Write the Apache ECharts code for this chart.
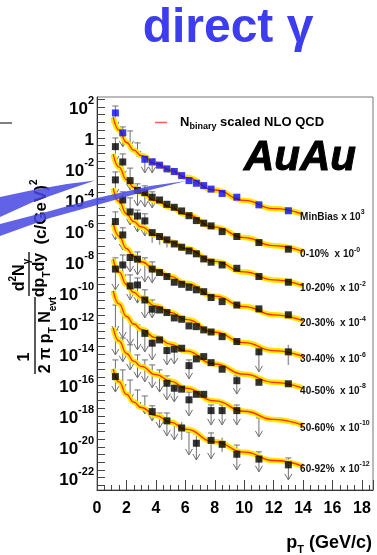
<!DOCTYPE html>
<html>
<head>
<meta charset="utf-8">
<title>direct gamma AuAu</title>
<script src="https://cdn.jsdelivr.net/npm/echarts@6/dist/echarts.min.js"></script>
<style>
html, body { margin: 0; padding: 0; background: #fff; }
#main { width: 377px; height: 555px; }
</style>
</head>
<body>
<div id="main"></div>
<script>
// pT grid of the NLO curves and of the measured bins
var curvePt = [1.1, 1.5, 2, 2.5, 3, 4, 5, 6, 8, 10, 12, 14];
var binPt = [1.25, 1.75, 2.25, 2.75, 3.25, 3.75, 4.25, 4.75, 5.25, 5.75, 6.25, 6.75, 7.25, 7.75, 8.5, 9.5, 11, 13];

var cents = ['MinBias', '0-10%', '10-20%', '20-30%', '30-40%', '40-50%', '50-60%', '60-92%'];
var scaleExp = ['3', '-0', '-2', '-4', '-6', '-8', '-10', '-12'];
var yLabelVals = [1e2, 1, 1e-2, 1e-4, 1e-6, 1e-8, 1e-10, 1e-12, 1e-14, 1e-16, 1e-18, 1e-20, 1e-22];
var xLabelVals = [0, 2, 4, 6, 8, 10, 12, 14, 16, 18];

// N_binary scaled NLO QCD curves (values at curvePt)
var mbCurve = [22, 3.2, 0.50, 0.16, 0.071, 0.021, 0.0079, 0.0028, 4.2e-4, 8.9e-5, 2.6e-5, 1.1e-5];
var c0010 = [8.9e-2, 1.26e-2, 2.0e-3, 6.3e-4, 2.8e-4, 8.3e-5, 3.2e-5, 1.12e-5, 1.66e-6, 3.5e-7, 1.05e-7, 4.3e-8];
var c1020 = [5.4e-4, 7.6e-5, 1.2e-5, 3.8e-6, 1.7e-6, 5.0e-7, 1.9e-7, 6.8e-8, 1.0e-8, 2.1e-9, 6.3e-10, 2.6e-10];
var c2030 = [3.0e-6, 4.3e-7, 6.8e-8, 2.1e-8, 9.5e-9, 2.8e-9, 1.07e-9, 3.8e-10, 5.6e-11, 1.2e-11, 3.5e-12, 1.45e-12];
var c3040 = [1.4e-8, 2.0e-9, 3.2e-10, 1.0e-10, 4.5e-11, 1.3e-11, 5.0e-12, 1.8e-12, 2.6e-13, 5.6e-14, 1.7e-14, 6.8e-15];
var c4050 = [1.26e-10, 1.8e-11, 2.8e-12, 8.9e-13, 4.0e-13, 1.17e-13, 4.5e-14, 1.6e-14, 2.3e-15, 5.0e-16, 1.5e-16, 6.0e-17];
var c5060 = [5.0e-13, 7.1e-14, 1.12e-14, 3.5e-15, 1.6e-15, 4.7e-16, 1.8e-16, 6.3e-17, 9.3e-18, 2.0e-18, 5.9e-19, 2.4e-19];
var c6092 = [1.12e-15, 1.6e-16, 2.5e-17, 7.9e-18, 3.5e-18, 1.05e-18, 4.0e-19, 1.4e-19, 2.1e-20, 4.5e-21, 1.3e-21, 5.4e-22];

// measured points (values at binPt, null = no marker)
var mbY = [41, 2.1, null, null, 0.041, 0.0275, 0.017, 0.0098, 0.0066, 0.0036, 0.0017, 0.00115, 8.1e-4, 4.8e-4, 2.5e-4, 1.44e-4, 4.6e-5, 1.9e-5];
var y0010 = [0.27, 0.0275, 1.7e-3, 4.0e-4, 2.8e-4, 1.44e-4, 9.5e-5, 5.0e-5, 3.2e-5, 1.86e-5, 9.1e-6, 4.4e-6, 3.0e-6, 2.0e-6, 8.5e-7, 4.1e-7, 1.66e-7, 6.2e-8];
var y1020 = [1.9e-3, 9.5e-5, 1.6e-5, 8.7e-6, 4.2e-6, 7.3e-7, 4.1e-7, 2.5e-7, 1.35e-7, 8.3e-8, 4.8e-8, 3.1e-8, 1.45e-8, 8.9e-9, 5.9e-9, 3.6e-9, 1.05e-9, 4.5e-10];
var y2030 = [3.8e-6, 5.2e-7, 1.8e-8, 1.4e-8, null, 3.2e-9, 1.9e-9, 1.05e-9, 4.5e-10, 3.3e-10, 2.1e-10, 1.45e-10, 1.1e-10, 4.6e-11, 2.5e-11, 1.5e-11, 8.5e-12, 3.5e-12];
var y3040 = [3.2e-9, 5.9e-9, 2.6e-10, 3.0e-10, 3.2e-11, 8.1e-12, 7.2e-12, 4.9e-12, 2.2e-12, 1.8e-12, 6.7e-13, 6.0e-13, 3.7e-13, 2.7e-13, 1.35e-13, 6.5e-14, 1.4e-14, 1.4e-14];
var y4050 = [null, null, null, null, 2.2e-13, 5.1e-14, 8.3e-14, 1.7e-14, 2.1e-14, 2.4e-14, 1.8e-15, 4.9e-15, 6.9e-15, 2.8e-15, 1.05e-15, 1.9e-16, 1.5e-16, 1.2e-16];
var y5060 = [null, null, null, null, null, null, null, 1.3e-16, 6.2e-17, 5.4e-17, 1.1e-17, 2.5e-17, 2.5e-17, 2.2e-18, 2.2e-18, 2.2e-18, null, null];
var y6092 = [3.5e-16, null, null, null, null, 1.9e-18, null, 4.8e-19, null, 1.66e-19, null, 1.7e-20, null, 2.6e-20, 1.45e-20, 3.3e-21, 1.6e-21, 6.8e-22];

// upper limits / arrows: [pT, top, arrow tip]
var mbArrows = [[1.25, 115, 4.4], [1.75, 5.1, 0.26], [2.25, 2.8, 0.26], [2.75, 0.47, 0.058], [3.25, 0.068, 0.0054], [3.75, 0.043, 0.0054]];
var a0010 = [[1.25, 0.98, 0.0275], [1.75, 0.091, 3.0e-3], [2.25, 0.011, 4.3e-4], [2.75, 1.05e-3, 3.9e-5], [3.25, 7.8e-4, 3.4e-5], [3.75, 3.2e-4, 2.9e-5]];
var a1020 = [[1.25, 6.2e-3, 2.0e-4], [1.75, 3.2e-4, 1.2e-5], [2.25, 1.3e-4, 2.3e-6], [2.75, 2.1e-5, 8.1e-7], [3.25, 1.2e-5, 4.5e-7]];
var a2030 = [[1.25, 1.6e-5, 2.5e-7], [1.75, 1.5e-6, 5.5e-8], [2.25, 4.1e-8, 2.1e-9], [2.75, 4.1e-8, 1.35e-9], [3.25, 1.7e-8, 4.7e-10], [3.75, 9.3e-9, 4.1e-10]];
var a3040 = [[1.25, 1.7e-8, 1.45e-10], [1.75, 2.6e-8, 6.3e-10], [2.25, 1.35e-9, 3.2e-11], [2.75, 8.5e-10, 2.0e-11], [3.25, 1.45e-10, 2.2e-12], [3.75, 3.2e-11, 2.2e-12], [11, 3.4e-14, 7.1e-16]];
var a4050 = [[1.25, 1.5e-11, 2.7e-13], [1.75, 5.4e-12, 1.1e-13], [2.25, 1.6e-12, 4.0e-14], [2.75, 7.8e-13, 1.9e-14], [3.25, 2.2e-13, 1.4e-14], [3.75, 1.7e-13, 4.2e-15], [4.75, 4.0e-14, 2.0e-15], [5.25, 4.6e-14, 2.3e-15], [6.25, 4.2e-15, 2.5e-16], [9.5, 3.9e-16, 2.6e-17]];
var a5060 = [[1.25, 3.7e-13, 8.9e-15], [1.75, 1.1e-13, 3.2e-15], [2.25, 4.0e-14, 9.5e-16], [2.75, 8.9e-15, 2.9e-16], [3.25, 4.2e-15, 1.6e-16], [3.75, 2.0e-15, 6.5e-17], [4.25, 9.5e-16, 3.5e-17], [4.75, 3.9e-16, 1.1e-17], [5.25, 1.6e-16, 8.1e-18], [6.25, 3.5e-17, 1.0e-18], [7.75, 5.1e-18, 2.6e-19], [8.5, 5.1e-18, 2.6e-19], [9.5, 5.1e-18, 2.6e-19], [11, 7.4e-19, 4.4e-20]];
var a6092 = [[1.25, 4.2e-15, 3.5e-17], [1.75, 9.5e-16, 4.8e-17], [2.25, 2.1e-16, 1.1e-17], [2.75, 4.8e-17, 3.3e-18], [3.25, 1.95e-17, 1.35e-18], [3.75, 4.5e-18, 4.8e-19], [4.25, 1.55e-18, 1.66e-19], [4.75, 1.55e-18, 5.1e-20], [5.25, 3.5e-19, 2.8e-20], [6.25, 9.1e-20, 3.0e-21], [6.75, 6.8e-20, 1.4e-21], [7.75, 7.9e-20, 1.66e-21], [9.5, 1.3e-20, 3.2e-22], [11, 4.7e-21, 2.4e-22], [13, 1.9e-21, 7.2e-23]];

// plain error bars: [pT, high, low]
var e1020 = [[3.75, 1.1e-6, 1.6e-7], [4.25, 6.0e-7, 1.2e-7], [4.75, 3.5e-7, 8.0e-8]];
var e3040 = [[13, 4.0e-14, 2.0e-15]];
var e6092 = [[5.75, 4.1e-19, 2.8e-20], [8.5, 3.8e-20, 4.7e-21]];

var groups = [
    { pts: mbY, curve: mbCurve, arrows: mbArrows, errs: [] },
    { pts: y0010, curve: c0010, arrows: a0010, errs: [] },
    { pts: y1020, curve: c1020, arrows: a1020, errs: e1020 },
    { pts: y2030, curve: c2030, arrows: a2030, errs: [] },
    { pts: y3040, curve: c3040, arrows: a3040, errs: e3040 },
    { pts: y4050, curve: c4050, arrows: a4050, errs: [] },
    { pts: y5060, curve: c5060, arrows: a5060, errs: [] },
    { pts: y6092, curve: c6092, arrows: a6092, errs: e6092 }
];

var font = '"Liberation Sans", Arial, Helvetica, sans-serif';
var grey = '#6e6e6e';

function renderArrow(params, api) {
    var top = api.coord([api.value(0), api.value(1)]);
    var tip = api.coord([api.value(0), api.value(2)]);
    var x = top[0];
    var st = { stroke: grey, lineWidth: 1, fill: null };
    return {
        type: 'group',
        children: [
            { type: 'line', shape: { x1: x, y1: top[1], x2: x, y2: tip[1] }, style: st },
            { type: 'line', shape: { x1: x - 3, y1: top[1], x2: x + 3, y2: top[1] }, style: st },
            { type: 'polyline', shape: { points: [[x - 3.5, tip[1] - 6], [x, tip[1]], [x + 3.5, tip[1] - 6]] }, style: st }
        ]
    };
}

function renderErr(params, api) {
    var hi = api.coord([api.value(0), api.value(1)]);
    var lo = api.coord([api.value(0), api.value(2)]);
    return {
        type: 'line',
        shape: { x1: hi[0], y1: hi[1], x2: lo[0], y2: lo[1] },
        style: { stroke: '#999', lineWidth: 1.5 }
    };
}

var series = [];
groups.forEach(function (g, i) {
    var cd = curvePt.map(function (p, j) { return [p, g.curve[j]]; });
    var pd = [];
    binPt.forEach(function (p, j) { if (g.pts[j] != null) pd.push([p, g.pts[j]]); });
    var lab = cents[i] + (i === 0 ? ' x 10' : '  x 10');
    var ex = scaleExp[i];

    series.push({
        type: 'custom', renderItem: renderArrow, data: g.arrows,
        encode: { x: 0, y: [1, 2] }, z: 1, silent: true
    });
    series.push({
        type: 'custom', renderItem: renderErr, data: g.errs,
        encode: { x: 0, y: [1, 2] }, z: 1, silent: true
    });
    series.push({
        type: 'line', data: cd, smooth: true, smoothMonotone: 'x', showSymbol: false,
        lineStyle: { color: '#ffe600', width: 5.5 }, z: 2, silent: true
    });
    series.push({
        type: 'line', name: 'NLO', data: cd, smooth: true, smoothMonotone: 'x', showSymbol: false,
        lineStyle: { color: '#ff2a00', width: 1.3 }, itemStyle: { color: '#ff2a00' }, z: 3, silent: true,
        endLabel: {
            show: true, distance: 0, offset: [-3, 1],
            formatter: function () { return '{n|' + lab + '}{s|' + ex + '}'; },
            rich: {
                n: { fontFamily: font, fontSize: 10, fontWeight: 'bold', color: '#111', lineHeight: 13, verticalAlign: 'bottom' },
                s: { fontFamily: font, fontSize: 7, fontWeight: 'bold', color: '#111', lineHeight: 8, verticalAlign: 'top' }
            }
        }
    });
    series.push({
        type: 'scatter', data: pd, symbol: 'rect', symbolSize: 7,
        itemStyle: { color: i === 0 ? '#0a0aff' : '#000' }, z: 4, silent: true
    });
});

var yTickVals = [];
for (var k = -45; k <= 5; k++) yTickVals.push(Math.pow(10, k / 2));

var sub = { fontFamily: font, fontSize: 10, fontWeight: 'bold', color: '#000', lineHeight: 10, verticalAlign: 'bottom' };
var sup = { fontFamily: font, fontSize: 10, fontWeight: 'bold', color: '#000', lineHeight: 10, verticalAlign: 'top' };
var big = { fontFamily: font, fontSize: 17, fontWeight: 'bold', color: '#000', lineHeight: 24, verticalAlign: 'middle' };
var big16 = { fontFamily: font, fontSize: 16, fontWeight: 'bold', color: '#000', lineHeight: 24, verticalAlign: 'middle' };

var myChart = echarts.init(document.getElementById('main'));
myChart.setOption({
    animation: false,
    backgroundColor: '#fff',
    grid: { left: 97, right: 4, top: 97, bottom: 65, show: true, borderColor: '#777', borderWidth: 1, outerBoundsMode: 'none' },
    legend: {
        data: ['NLO'], left: 150, top: 111, icon: 'rect', itemWidth: 12, itemHeight: 1.5,
        selectedMode: false, itemStyle: { color: '#ff5a5a' },
        formatter: function () { return '{n|N}{s|binary}{n| scaled NLO QCD}'; },
        textStyle: {
            padding: [0, 0, 0, 8],
            rich: {
                n: { fontFamily: font, fontSize: 13, fontWeight: 'bold', color: '#000', lineHeight: 18, verticalAlign: 'middle' },
                s: { fontFamily: font, fontSize: 9, fontWeight: 'bold', color: '#000', lineHeight: 9, verticalAlign: 'bottom' }
            }
        }
    },
    xAxis: {
        type: 'value', min: 0, max: 18.75, interval: 2,
        axisLine: { lineStyle: { color: '#333' } },
        axisTick: { inside: true, length: 10, lineStyle: { color: '#444' } },
        minorTick: { show: true, splitNumber: 4, length: 5, lineStyle: { color: '#444' } },
        splitLine: { show: false },
        axisLabel: {
            customValues: xLabelVals,
            margin: 11, color: '#000', fontFamily: font, fontSize: 16, fontWeight: 'bold'
        }
    },
    yAxis: {
        type: 'log', logBase: 10, min: 1.6e-23, max: 4.4e2,
        axisLine: { show: true, lineStyle: { color: '#333' } },
        axisTick: { show: true, inside: true, length: 8, customValues: yTickVals, lineStyle: { color: '#444' } },
        splitLine: { show: false },
        axisLabel: {
            customValues: yLabelVals, margin: 3,
            formatter: function (v) {
                var e = Math.round(Math.log10(v));
                return e === 0 ? '{b|1}' : '{b|10}{s|' + e + '}';
            },
            rich: {
                b: { fontFamily: font, fontSize: 17, fontWeight: 'bold', color: '#000', lineHeight: 22, verticalAlign: 'bottom' },
                s: { fontFamily: font, fontSize: 11, fontWeight: 'bold', color: '#000', lineHeight: 11, verticalAlign: 'top' }
            }
        }
    },
    graphic: [
        { type: 'text', x: 228, y: 29, style: { text: 'direct \u03b3', fill: '#3d3def', font: 'bold 48px ' + font, align: 'center', verticalAlign: 'middle' } },
        { type: 'text', x: 300, y: 158, z: 10, style: { text: 'AuAu', fill: '#000', stroke: '#000', lineWidth: 1, font: 'italic bold 42px ' + font, align: 'center', verticalAlign: 'middle' } },
        { type: 'line', shape: { x1: 0, y1: 123, x2: 12, y2: 123 }, style: { stroke: '#000', lineWidth: 1 } },
        {
            type: 'text', x: 372, y: 543,
            style: {
                text: '{a|p}{s|T}{a| (GeV/c)}', align: 'right', verticalAlign: 'middle',
                rich: {
                    a: { fontFamily: font, fontSize: 18, fontWeight: 'bold', color: '#000', lineHeight: 24, verticalAlign: 'middle' },
                    s: { fontFamily: font, fontSize: 11, fontWeight: 'bold', color: '#000', lineHeight: 10, verticalAlign: 'bottom' }
                }
            }
        },
        {
            type: 'group', x: 0, y: 380, rotation: Math.PI / 2,
            children: [
                { type: 'text', x: 23, y: 25, style: { text: '1', font: 'bold 16px ' + font, fill: '#000', align: 'center', verticalAlign: 'middle' } },
                { type: 'line', shape: { x1: 6, y1: 35, x2: 83, y2: 35 }, style: { stroke: '#000', lineWidth: 1.3 } },
                { type: 'text', x: 45, y: 46, style: { text: '{a|2 \u03c0 p}{s|T}{a| N}{s|evt}', align: 'center', verticalAlign: 'middle', rich: { a: big16, s: sub } } },
                { type: 'text', x: 105, y: 20, style: { text: '{a|d}{p|2}{a|N}{s|\u03b3}', align: 'center', verticalAlign: 'middle', rich: { a: big16, s: sub, p: sup } } },
                { type: 'line', shape: { x1: 84, y1: 29, x2: 128, y2: 29 }, style: { stroke: '#000', lineWidth: 1.3 } },
                { type: 'text', x: 105, y: 40, style: { text: '{a|dp}{s|T}{a|dy}', align: 'center', verticalAlign: 'middle', rich: { a: big16, s: sub } } },
                { type: 'text', x: 168, y: 41, style: { text: '{a|(c/GeV)}{p|2}', align: 'center', verticalAlign: 'middle', rich: { a: big, p: sup } } }
            ]
        },
        {
            type: 'polygon', z: 20,
            shape: { points: [[0, 197], [33, 190], [67, 184], [95, 180.5], [67, 190], [33, 202], [0, 217]] },
            style: { fill: '#4646e2', opacity: 0.85 }
        },
        {
            type: 'polygon', z: 20,
            shape: { points: [[0, 224], [50, 211], [97, 198], [150, 186], [186, 181], [150, 190], [97, 205], [50, 218], [0, 236]] },
            style: { fill: '#4646e2', opacity: 0.85 }
        }
    ],
    series: series
});
</script>
</body>
</html>
